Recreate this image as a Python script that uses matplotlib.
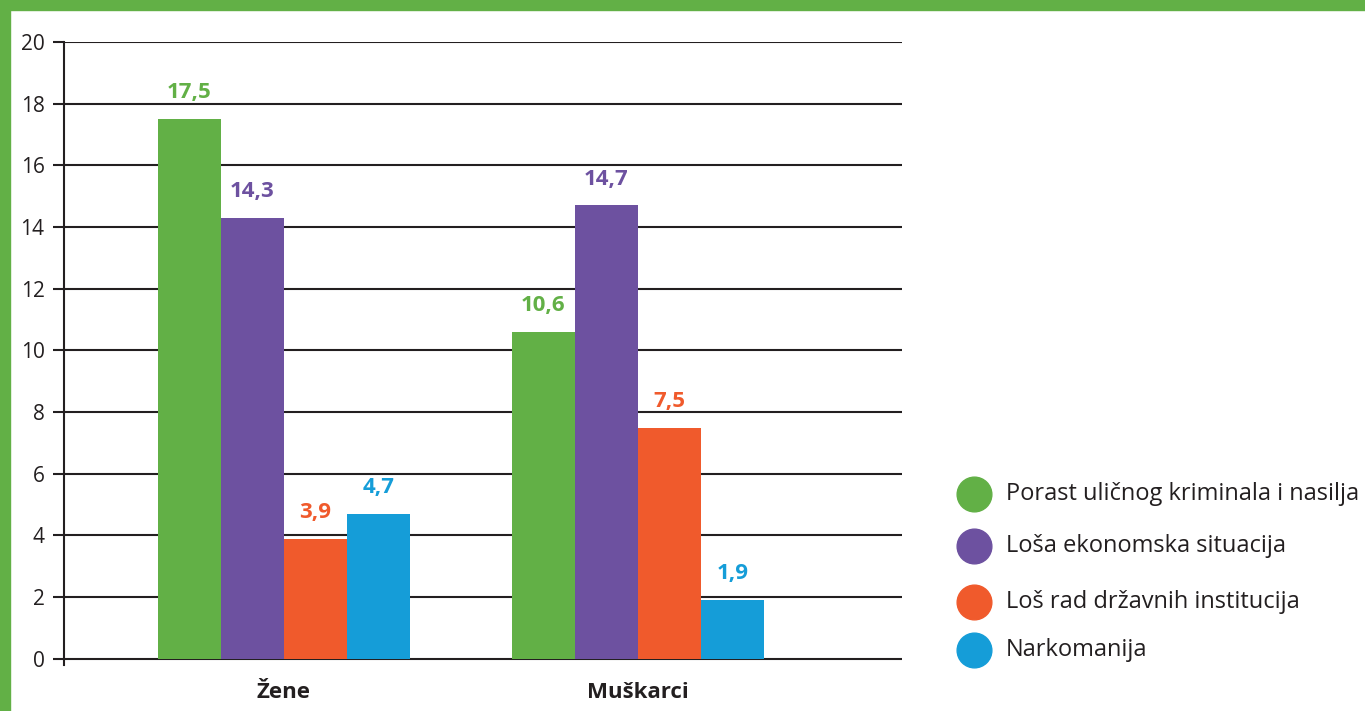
import numpy as np
import matplotlib.pyplot as plt
from matplotlib.patches import Rectangle

plt.rcParams['font.family'] = ['Open Sans', 'DejaVu Sans']

categories = ['Žene', 'Muškarci']
series_names = ['Porast uličnog kriminala i nasilja',
                'Loša ekonomska situacija',
                'Loš rad državnih institucija',
                'Narkomanija']
values = [
    [17.5, 10.6],
    [14.3, 14.7],
    [3.9, 7.5],
    [4.7, 1.9],
]
labels = [
    ['17,5', '10,6'],
    ['14,3', '14,7'],
    ['3,9', '7,5'],
    ['4,7', '1,9'],
]
y_ticks = [0, 2, 4, 6, 8, 10, 12, 14, 16, 18, 20]

colors = ['#62B046', '#6D51A0', '#F05A2C', '#159DD8']
frame_green = '#62B046'
ink = '#231f20'

fig = plt.figure(figsize=(13.65, 7.11), dpi=100)
ax = fig.add_axes([64 / 1365, 46 / 711, (902 - 64) / 1365, (665 - 42) / 711])

x = np.arange(len(categories))
width = 0.178
for i, (vals, labs) in enumerate(zip(values, labels)):
    pos = x + (i - 1.5) * width
    ax.bar(pos, vals, width=width, color=colors[i], zorder=3)
    for px, v, lab in zip(pos, vals, labs):
        ax.annotate(lab, (px, v), xytext=(0, 19), textcoords='offset points',
                    ha='center', va='center', color=colors[i],
                    fontsize=16, fontweight='bold')

ax.set_xlim(-0.621, 1.746)
ax.set_ylim(-0.2, 20)
ax.set_yticks(y_ticks)
ax.set_yticklabels([str(t) for t in y_ticks], fontsize=15, color=ink)
ax.yaxis.grid(True, color=ink, linewidth=1.5, zorder=1)
ax.tick_params(axis='y', length=8, width=1.5, color=ink, pad=6)
ax.set_xticks(x)
ax.set_xticklabels(categories, fontsize=16, fontweight='bold', color=ink)
ax.tick_params(axis='x', length=0, pad=12)

for side in ['top', 'right', 'bottom']:
    ax.spines[side].set_visible(False)
ax.spines['left'].set_color(ink)
ax.spines['left'].set_linewidth(1.5)

# legend drawn by hand to keep the uneven spacing
legend_y = [494, 546, 602, 650]
for name, col, yy in zip(series_names, colors, legend_y):
    fy = 1 - yy / 711
    fig.add_artist(plt.Line2D([974 / 1365], [fy], marker='o', markersize=25,
                              color=col, linestyle='none'))
    fig.text(1006 / 1365, fy, name, fontsize=17, va='center', ha='left',
             color=ink)

# green frame on top and left
fig.patches.append(Rectangle((0, 1 - 10 / 711), 1, 10 / 711,
                             transform=fig.transFigure, color=frame_green))
fig.patches.append(Rectangle((0, 0), 10 / 1365, 1,
                             transform=fig.transFigure, color=frame_green))

fig.savefig('out.png', dpi=100)
